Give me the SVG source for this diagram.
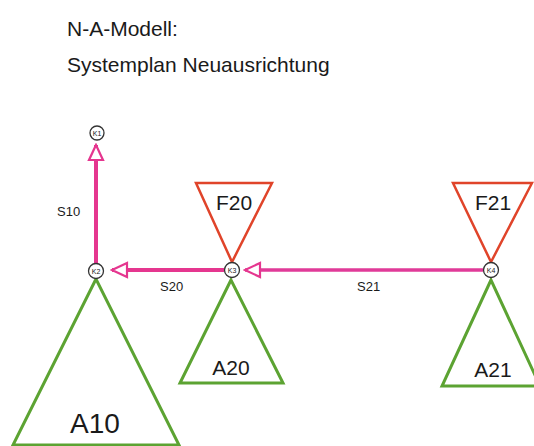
<svg xmlns="http://www.w3.org/2000/svg" width="534" height="446" viewBox="0 0 534 446">
<defs>
<style>
text{font-family:"Liberation Sans",Arial,sans-serif;fill:#1a1a1a}
.title{font-size:21px}
.lbl{font-size:13px}
.big{font-size:21px;text-anchor:middle}
.klbl{font-size:7px;text-anchor:middle}
.k{fill:#fff;stroke:#333;stroke-width:1.3}
.f{fill:none;stroke:#e0442a;stroke-width:2.5;stroke-linejoin:miter}
.a{fill:none;stroke:#5ca332;stroke-width:3}
.s{stroke:#e5368f;stroke-width:4;fill:none}
</style>
<marker id="arr" viewBox="0 0 20 20" refX="18" refY="10" markerWidth="20" markerHeight="20" markerUnits="userSpaceOnUse" orient="auto">
<path d="M18,10 L3,3 L3,17 Z" fill="#fff" stroke="#e5368f" stroke-width="2.2"/>
</marker>
</defs>
<text class="title" x="67" y="36">N-A-Modell:</text>
<text class="title" x="67" y="72">Systemplan Neuausrichtung</text>

<g id="A10"><path class="a" d="M96,279 L13,445 L179,445 Z"/><text class="big" x="95" y="433" style="font-size:28px">A10</text></g>
<g id="A20"><path class="a" d="M231,280 L180,383 L283,383 Z"/><text class="big" x="231" y="375">A20</text></g>
<g id="A21"><path class="a" d="M491,280 L442,386 L540,386 Z"/><text class="big" x="493" y="377">A21</text></g>
<g id="F20"><path class="f" d="M196,183 L272,183 L232,262 Z"/><text class="big" x="234" y="210">F20</text></g>
<g id="F21"><path class="f" d="M453,183 L532,183 L491,262 Z"/><text class="big" x="493" y="210">F21</text></g>

<g id="connectors">
<line class="s" x1="96" y1="263" x2="96" y2="145" marker-end="url(#arr)"/>
<line class="s" x1="224" y1="270" x2="112" y2="270" marker-end="url(#arr)"/>
<line class="s" x1="483" y1="270" x2="245" y2="270" marker-end="url(#arr)" style="stroke-width:3.5;stroke:#e03a98"/>
<text class="lbl" x="57" y="216">S10</text>
<text class="lbl" x="160" y="291">S20</text>
<text class="lbl" x="357" y="291">S21</text>
</g>

<g id="K1"><circle class="k" cx="97" cy="133" r="7"/><text class="klbl" x="97" y="135.5">K1</text></g>
<g id="K2"><circle class="k" cx="96" cy="271" r="7.5"/><text class="klbl" x="96" y="273.5">K2</text></g>
<g id="K3"><circle class="k" cx="232" cy="270" r="7.5"/><text class="klbl" x="232" y="272.5">K3</text></g>
<g id="K4"><circle class="k" cx="491" cy="270" r="7.5"/><text class="klbl" x="491" y="272.5">K4</text></g>
</svg>
